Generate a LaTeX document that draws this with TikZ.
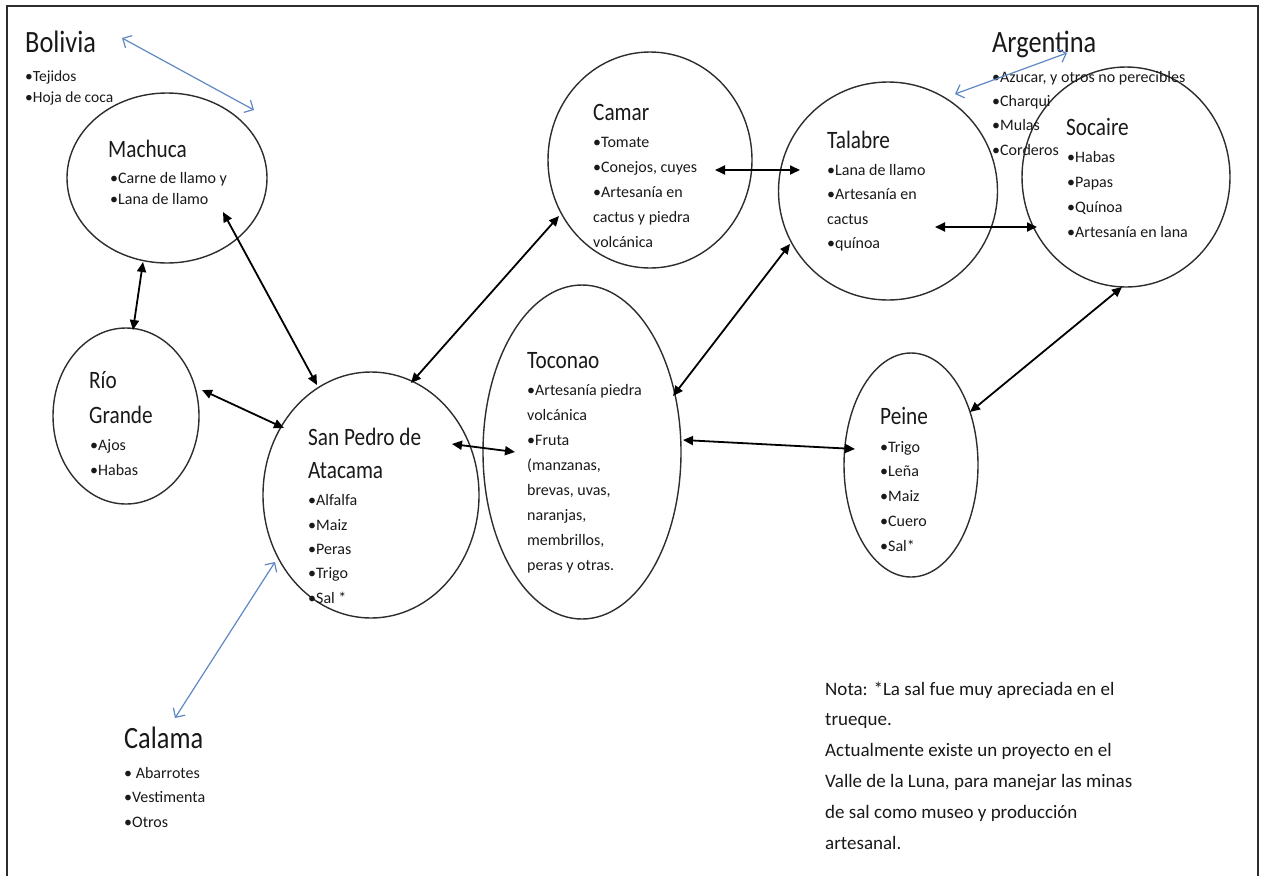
\documentclass[tikz,border=0pt]{standalone}
\usepackage{fontspec}
\setmainfont{Carlito}
\newfontfamily\tfont{Carlito}[FakeStretch=0.85]
\usetikzlibrary{arrows.meta,shapes.geometric}
\definecolor{bluearr}{RGB}{95,135,195}
\definecolor{edgec}{RGB}{45,45,45}
\definecolor{txt}{RGB}{25,25,25}
\begin{document}
\begin{tikzpicture}[x=1pt,y=-1pt,
  place/.style={ellipse,draw=edgec,line width=1.4pt,inner sep=0pt},
  ttl/.style={anchor=base west,inner sep=0pt,text=txt,font=\tfont\fontsize{25}{33}\selectfont,align=left},
  bigttl/.style={anchor=base west,inner sep=0pt,text=txt,font=\tfont\fontsize{31}{36}\selectfont},
  items/.style={anchor=base west,inner sep=0pt,align=left,text=txt,font=\fontsize{16}{25}\selectfont},
  link/.style={{Triangle[length=10pt,width=9pt]}-{Triangle[length=10pt,width=9pt]},line width=1.8pt,draw=black},
  blink/.style={{Straight Barb[length=7pt,width=14pt]}-{Straight Barb[length=7pt,width=14pt]},line width=1.2pt,draw=bluearr}]
\useasboundingbox (0,0) rectangle (1265,876);
% frame
\draw[edgec,line width=1.3pt] (7,876) -- (7,6) -- (1258,6) -- (1258,876);

% places
\node[place,minimum width=200pt,minimum height=170pt] (machuca) at (167,178) {};
\node[place,minimum width=146pt,minimum height=176pt] (rio) at (126,416) {};
\node[place,minimum width=216pt,minimum height=246pt] (spa) at (371,495) {};
\node[place,minimum width=198pt,minimum height=334pt] (toconao) at (582,452) {};
\node[place,minimum width=204pt,minimum height=216pt] (camar) at (650,160) {};
\node[place,minimum width=219pt,minimum height=218pt] (talabre) at (888,191) {};
\node[place,minimum width=208pt,minimum height=220pt] (socaire) at (1126,177) {};
\node[place,minimum width=134pt,minimum height=224pt] (peine) at (911,465) {};

% texts (multi-line nodes: base = last line's baseline)
\node[bigttl] (bolT) at (25,52) {Bolivia};
\node[items,font=\fontsize{15.5}{21}\selectfont] (bolI) at (25,102) {•Tejidos\\•Hoja de coca};

\node[ttl] (macT) at (108,157) {Machuca};
\node[items,font=\fontsize{16}{21}\selectfont] (macI) at (110,204) {•Carne de llamo y\\•Lana de llamo};

\node[ttl,font=\tfont\fontsize{25}{35}\selectfont] (rioT) at (89,423) {Río\\Grande};
\node[items] (rioI) at (90,475) {•Ajos\\•Habas};

\node[ttl] (spaT) at (308,478) {San Pedro de\\Atacama};
\node[items,font=\fontsize{16}{24.3}\selectfont] (spaI) at (308,603) {•Alfalfa\\•Maiz\\•Peras\\•Trigo\\•Sal *};

\node[ttl] (tocT) at (527,368) {Toconao};
\node[items] (tocI) at (527,570) {•Artesanía piedra\\volcánica\\•Fruta\\(manzanas,\\brevas, uvas,\\naranjas,\\membrillos,\\peras y otras.};

\node[ttl] (camT) at (593,120) {Camar};
\node[items] (camI) at (593,247) {•Tomate\\•Conejos, cuyes\\•Artesanía en\\cactus y piedra\\volcánica};

\node[ttl] (talT) at (827,148) {Talabre};
\node[items,font=\fontsize{16}{24.5}\selectfont] (talI) at (827,248.5) {•Lana de llamo\\•Artesanía en\\cactus\\•quínoa};

\node[ttl] (socT) at (1066,135) {Socaire};
\node[items] (socI) at (1067,237) {•Habas\\•Papas\\•Quínoa\\•Artesanía en lana};

\node[bigttl] (argT) at (992,52) {Argentina};
\node[items,font=\fontsize{16}{24.4}\selectfont] (argI) at (992,155.2) {•Azucar, y otros no perecibles\\•Charqui\\•Mulas\\•Corderos};

\node[ttl] (peiT) at (880,424) {Peine};
\node[items,font=\fontsize{16}{24.8}\selectfont] (peiI) at (880,551.2) {•Trigo\\•Leña\\•Maiz\\•Cuero\\•Sal*};

\node[bigttl] (calT) at (124,748) {Calama};
\node[items,font=\fontsize{16}{24.5}\selectfont] (calI) at (124,827) {• Abarrotes\\•Vestimenta\\•Otros};

\node[anchor=base west,inner sep=0pt,align=left,text=txt,font=\fontsize{19}{30.8}\selectfont] (nota) at (825,849)
  {Nota: *La sal fue muy apreciada en el\\trueque.\\Actualmente existe un proyecto en el\\Valle de la Luna, para manejar las minas\\de sal como museo y producción\\artesanal.};

% arrow end points
\coordinate (mR) at (143,262);
\coordinate (rM) at (133,330);
\coordinate (mS) at (223,212);
\coordinate (sM) at (317,385);
\coordinate (rS) at (202,390);
\coordinate (sR) at (284,428);
\coordinate (sC) at (411,383);
\coordinate (cS) at (559,216);
\coordinate (sT) at (452,444);
\coordinate (tS) at (515,452);
\coordinate (cT) at (715,170);
\coordinate (tC) at (800,170);
\coordinate (oT) at (673,396);
\coordinate (tO) at (790,244);
\coordinate (oP) at (683,440);
\coordinate (pO) at (855,449);
\coordinate (taS) at (935,227);
\coordinate (soT) at (1037,227);
\coordinate (pS) at (970,412);
\coordinate (soP) at (1122,287);
\coordinate (bol1) at (122,38);
\coordinate (bol2) at (254,110);
\coordinate (arg1) at (955,94);
\coordinate (arg2) at (1067,53);
\coordinate (cal1) at (275,562);
\coordinate (cal2) at (175,718);

% black links
\draw[link] (mR) -- (rM);
\draw[link] (mS) -- (sM);
\draw[link] (rS) -- (sR);
\draw[link] (sC) -- (cS);
\draw[link] (sT) -- (tS);
\draw[link] (cT) -- (tC);
\draw[link] (oT) -- (tO);
\draw[link] (oP) -- (pO);
\draw[link] (taS) -- (soT);
\draw[link] (pS) -- (soP);
% blue links
\draw[blink] (bol1) -- (bol2);
\draw[blink] (arg1) -- (arg2);
\draw[blink] (cal1) -- (cal2);
\end{tikzpicture}
\end{document}
